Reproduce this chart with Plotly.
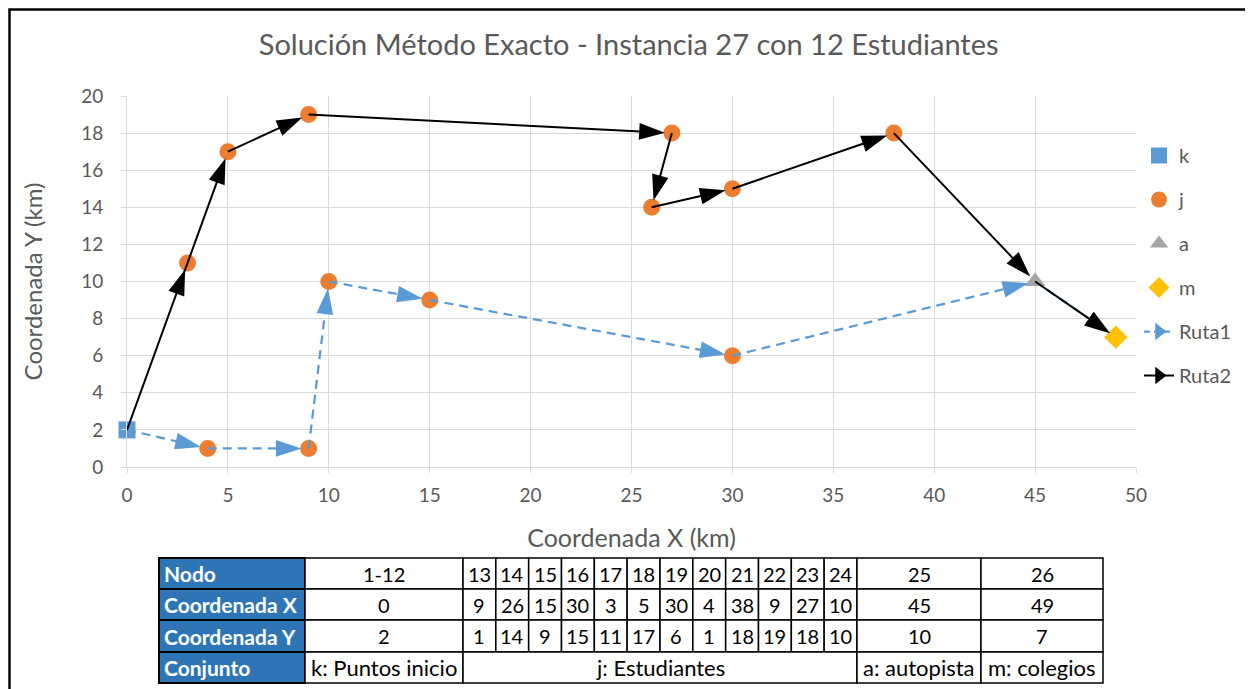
import plotly.graph_objects as go

# ---------------- data ----------------
title_text = "Solución Método Exacto - Instancia 27 con 12 Estudiantes"

k_x = [0]
k_y = [2]
j_nodes = [13, 14, 15, 16, 17, 18, 19, 20, 21, 22, 23, 24]
j_x = [9, 26, 15, 30, 3, 5, 30, 4, 38, 9, 27, 10]
j_y = [1, 14, 9, 15, 11, 17, 6, 1, 18, 19, 18, 10]
a_x = [45]
a_y = [10]
m_x = [49]
m_y = [7]

ruta1_nodes = ["k", 20, 13, 24, 15, 19, 25, 26]
ruta2_nodes = ["k", 17, 18, 22, 23, 14, 16, 21, 25, 26]

table_header = ["Nodo", "Coordenada X", "Coordenada Y", "Conjunto"]
table_nodo = ["1-12"] + [str(n) for n in j_nodes] + ["25", "26"]
table_x = k_x + j_x + a_x + m_x
table_y = k_y + j_y + a_y + m_y
table_sets = ["k: Puntos inicio", "j: Estudiantes", "a: autopista", "m: colegios"]

# ---------------- helpers ----------------
coords = {"k": (k_x[0], k_y[0]), 25: (a_x[0], a_y[0]), 26: (m_x[0], m_y[0])}
for n, x, y in zip(j_nodes, j_x, j_y):
    coords[n] = (x, y)

def route_xy(nodes):
    return [coords[n][0] for n in nodes], [coords[n][1] for n in nodes]

r1x, r1y = route_xy(ruta1_nodes)
r2x, r2y = route_xy(ruta2_nodes)

FONT = "Lato"
GREY = "#595959"
OFF = 8                      # page body margin
W, H = 1253 - OFF, 689 - OFF
SL, SR, ST, SB = 127, 1136, 96, 467   # plot area in screen px

def PX(px):
    return (px - SL) / (SR - SL)

def PY(py):
    return (SB - py) / (SB - ST)

fig = go.Figure()

fig.add_trace(go.Scatter(x=k_x, y=k_y, mode="markers", name="k", cliponaxis=False,
                         marker=dict(symbol="square", size=17, color="#5B9BD5"),
                         legendgroup="k"))
fig.add_trace(go.Scatter(x=j_x, y=j_y, mode="markers", name="j", cliponaxis=False,
                         marker=dict(symbol="circle", size=17, color="#ED7D31"),
                         legendgroup="j"))
fig.add_trace(go.Scatter(x=a_x, y=a_y, mode="markers", name="a", cliponaxis=False,
                         marker=dict(symbol="triangle-up", size=18, color="#A5A5A5"),
                         legendgroup="a"))
fig.add_trace(go.Scatter(x=m_x, y=m_y, mode="markers", name="m", cliponaxis=False,
                         marker=dict(symbol="diamond", size=18, color="#FFC000"),
                         legendgroup="m"))

def route_trace(xs, ys, color, dash, width):
    sizes = [0] + [27] * (len(xs) - 1)
    return go.Scatter(x=xs, y=ys, mode="lines+markers", showlegend=False, cliponaxis=False,
                      line=dict(color=color, dash=dash, width=width),
                      marker=dict(symbol="arrow", angleref="previous", size=sizes,
                                  color=color, standoff=7, opacity=1, line=dict(width=0)))

fig.add_trace(route_trace(r1x, r1y, "#5B9BD5", "9px,6px", 2.25))
fig.add_trace(route_trace(r2x, r2y, "#000000", "solid", 2))

# legend proxies
fig.add_trace(go.Scatter(x=[None], y=[None], mode="lines+markers", name="Ruta1",
                         line=dict(color="#5B9BD5", dash="6px,4px", width=2.25),
                         marker=dict(symbol="triangle-right", size=15, color="#5B9BD5"),
                         legendgroup="r1"))
fig.add_trace(go.Scatter(x=[None], y=[None], mode="lines+markers", name="Ruta2",
                         line=dict(color="#000000", width=2),
                         marker=dict(symbol="triangle-right", size=15, color="#000000"),
                         legendgroup="r2"))

shapes = []
annotations = []

# outer chart border
shapes.append(dict(type="rect", xref="paper", yref="paper",
                   x0=PX(9.5), x1=PX(1280), y0=PY(9.5), y1=PY(720),
                   line=dict(color="black", width=2.5), fillcolor="rgba(0,0,0,0)"))

# ---------------- table ----------------
row_y = [558, 589, 620, 652, 683]
narrow = (857 - 463) / 12
col_x = [159, 305, 463] + [463 + narrow * (i + 1) for i in range(12)] + [981, 1103]

for r in range(4):
    shapes.append(dict(type="rect", xref="paper", yref="paper",
                       x0=PX(col_x[0]), x1=PX(col_x[1]), y0=PY(row_y[r]), y1=PY(row_y[r + 1]),
                       line=dict(color="black", width=2), fillcolor="#2E75B6"))
    annotations.append(dict(xref="paper", yref="paper", x=PX(col_x[0] + 3),
                            y=PY((row_y[r] + row_y[r + 1]) / 2), xanchor="left", yanchor="middle",
                            text="<b>%s</b>" % table_header[r], showarrow=False,
                            font=dict(family=FONT, size=21, color="white")))

row_vals = [table_nodo, [str(v) for v in table_x], [str(v) for v in table_y]]
for r in range(3):
    for c in range(len(col_x) - 2):
        x0, x1 = col_x[c + 1], col_x[c + 2]
        shapes.append(dict(type="rect", xref="paper", yref="paper",
                           x0=PX(x0), x1=PX(x1), y0=PY(row_y[r]), y1=PY(row_y[r + 1]),
                           line=dict(color="black", width=1.5), fillcolor="white"))
        annotations.append(dict(xref="paper", yref="paper", x=PX((x0 + x1) / 2),
                                y=PY((row_y[r] + row_y[r + 1]) / 2), xanchor="center", yanchor="middle",
                                text=row_vals[r][c], showarrow=False,
                                font=dict(family=FONT, size=20, color="black")))

set_spans = [(col_x[1], col_x[2]), (col_x[2], col_x[14]), (col_x[14], col_x[15]), (col_x[15], col_x[16])]
for (x0, x1), txt in zip(set_spans, table_sets):
    shapes.append(dict(type="rect", xref="paper", yref="paper",
                       x0=PX(x0), x1=PX(x1), y0=PY(row_y[3]), y1=PY(row_y[4]),
                       line=dict(color="black", width=1.5), fillcolor="white"))
    annotations.append(dict(xref="paper", yref="paper", x=PX((x0 + x1) / 2),
                            y=PY((row_y[3] + row_y[4]) / 2), xanchor="center", yanchor="middle",
                            text=txt, showarrow=False,
                            font=dict(family=FONT, size=22, color="black")))

fig.update_layout(
    width=W, height=H,
    margin=dict(l=SL - OFF, r=1253 - SR, t=ST - OFF, b=689 - SB, pad=0),
    paper_bgcolor="white", plot_bgcolor="white",
    font=dict(family=FONT, color=GREY, size=18),
    title=dict(text=title_text, x=PX(630), xanchor="center", y=1 - (45 - OFF) / H, yanchor="middle",
               font=dict(family=FONT, size=29, color=GREY)),
    xaxis=dict(range=[0, 50], dtick=5, showgrid=True, gridcolor="#D9D9D9", gridwidth=1,
               showline=True, linecolor="#D9D9D9", linewidth=1, zeroline=False,
               ticks="outside", ticklen=5, tickcolor="#D9D9D9", ticklabelstandoff=6,
               tickfont=dict(size=19, color=GREY),
               title=dict(text="Coordenada X (km)", font=dict(size=25, color=GREY), standoff=24)),
    yaxis=dict(range=[0, 20], dtick=2, showgrid=True, gridcolor="#D9D9D9", gridwidth=1,
               showline=True, linecolor="#D9D9D9", linewidth=1, zeroline=False,
               ticks="outside", ticklen=5, tickcolor="#D9D9D9", ticklabelstandoff=14,
               tickfont=dict(size=19, color=GREY),
               title=dict(text="Coordenada Y (km)", font=dict(size=24, color=GREY), standoff=31)),
    legend=dict(x=PX(1139), xanchor="left", y=PY(136), yanchor="top",
                font=dict(size=20, color=GREY), tracegroupgap=15,
                bgcolor="rgba(0,0,0,0)", itemwidth=30),
    shapes=shapes,
    annotations=annotations,
)

fig.write_html("out.html")
